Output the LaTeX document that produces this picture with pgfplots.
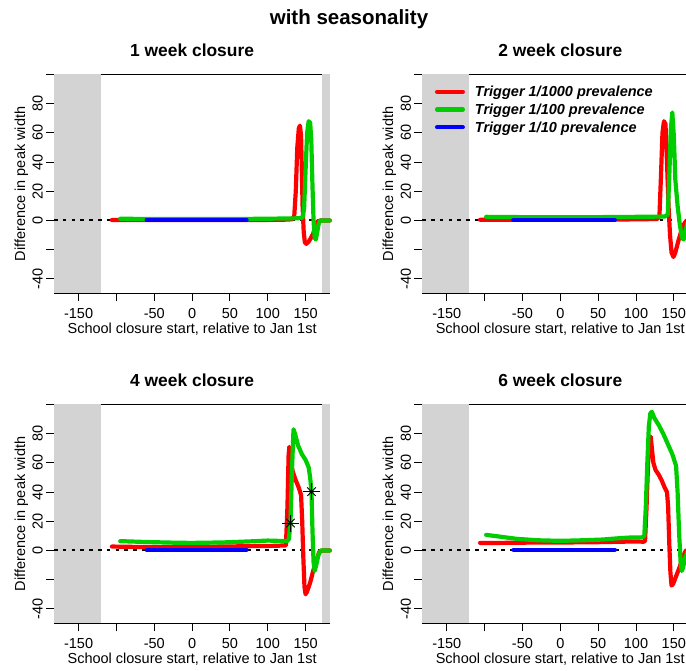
\documentclass[border=0pt]{standalone}
\usepackage{fontspec}
\setmainfont{Liberation Sans}
\usepackage{pgfplots}
\pgfplotsset{compat=1.18}
\definecolor{rred}{RGB}{255,0,0}
\definecolor{rgreen}{RGB}{0,205,0}
\definecolor{rblue}{RGB}{0,0,255}
\definecolor{rgrey}{RGB}{211,211,211}
\pgfplotsset{
 panel/.style={
  scale only axis, width=276.2pt, height=219pt, anchor=south west,
  xmin=-182.5, xmax=182.5, ymin=-50, ymax=100,
  axis x line*=bottom, axis y line*=left,
  axis line style={draw=none},
  xtick={-150,-100,...,150}, xticklabels={-150,,-50,0,50,100,150},
  ytick={-40,-20,...,100}, yticklabels={-40,,0,20,40,60,80,},
  tick align=outside, major tick length=8pt,
  tick style={black, line width=0.9pt},
  ticklabel style={font=\fontsize{14.5}{17}\selectfont, inner sep=0pt},
  xticklabel style={anchor=north, yshift=-7pt},
  yticklabel style={xshift=-3pt, rotate=90, anchor=south},
  clip=false,
  title style={at={([yshift=12.2pt]axis description cs:0.5,1)}, anchor=base, font=\bfseries\fontsize{17.4}{20}\selectfont},
  xlabel style={at={([yshift=-40.5pt]axis description cs:0.5,0)}, anchor=base, font=\fontsize{14.5}{17}\selectfont},
  ylabel style={at={([xshift=-29pt]axis description cs:0,0.5)}, anchor=base, font=\fontsize{14.5}{17}\selectfont},
  xlabel={School closure start, relative to Jan 1st},
  ylabel={Difference in peak width},
 },
 curve/.style={line width=4.2pt, line cap=round, line join=round},
}
\newcommand{\deco}{%
 \draw[black, line width=0.9pt] (axis cs:-182.5,100) -- (axis cs:182.5,100);
 \fill[rgrey] (axis cs:-182.5,-49.6) rectangle (axis cs:-120.7,100.2);
 \fill[rgrey] (axis cs:171,-49.6) rectangle (axis cs:182.5,100.2);
 \draw[black, line width=0.9pt] (axis cs:-182.5,-50) -- (axis cs:182.5,-50);
 \draw[black, line width=2pt, dash pattern=on 3.5pt off 5.3pt] (axis cs:-182.5,0) -- (axis cs:182.5,0);
}
\begin{document}
\begin{tikzpicture}
\path[use as bounding box] (0pt,0pt) rectangle (686pt,671pt);
\clip (0pt,0pt) rectangle (686pt,671pt);

% ---------- 1 week ----------
\begin{axis}[panel, at={(54pt,377.5pt)}, title={1 week closure}]
\deco
\addplot[rred, curve] coordinates {(-106,0.3) (-80,0.3) (-40,0.3) (0,0.3) (40,0.3) (80,0.3) (120,0.5) (132,0.8) (135,3) (137,20) (139,50) (141,63) (142.5,65) (144,58) (145,35) (146,10) (147.5,-8) (149,-15) (151,-16) (154,-14.5) (157,-12) (160,-9) (163,-4) (166,-0.5) (170,0) (182,0)};
\addplot[rgreen, curve] coordinates {(-95,1.2) (-50,1) (0,1) (50,1) (100,1.2) (140,1.5) (146,2) (148,8) (150,35) (152,60) (154,68) (156,67) (157.5,55) (159,25) (160.5,0) (162,-12) (163.5,-13) (165,-9) (167,-3) (169,0) (182,0)};
\addplot[rblue, curve] coordinates {(-60,0.5) (-30,0.5) (0,0.5) (30,0.5) (72,0.5)};
\end{axis}

% ---------- 2 week ----------
\begin{axis}[panel, at={(422.2pt,377.5pt)}, title={2 week closure},
  legend style={at={(axis cs:-165.9,91.9)}, anchor=north west, draw=none, fill=none, inner sep=0pt, row sep=7.4pt, column sep=10pt,
    font=\bfseries\itshape\fontsize{14.5}{17}\selectfont, nodes={inner sep=0pt, text height=10.4pt, text depth=0pt}},
  legend cell align=left,
  legend image code/.code={\draw[#1] (0pt,0pt) -- (25.8pt,0pt);}]
\deco
\addplot[rred, curve] coordinates {(-106,0.5) (-50,0.5) (0,0.5) (50,0.5) (100,0.8) (128,1) (131,3) (133,30) (135,60) (137,68) (139,66) (141,40) (143,10) (145,-10) (147,-22) (149.5,-25) (152,-22) (156,-14) (160,-7) (164,-2) (167,0) (182,0)};
\addlegendentry{Trigger 1/1000 prevalence}
\addplot[rgreen, curve] coordinates {(-98,2.5) (-50,2.3) (0,2.2) (50,2.3) (100,2.5) (138,2.7) (142,4) (144,30) (146,62) (148,74) (150,58) (152,28) (155,10) (158,-3) (161,-12) (163,-13) (165,-8) (168,-2) (172,0) (182,0)};
\addlegendentry{Trigger 1/100 prevalence}
\addplot[rblue, curve] coordinates {(-62,0.5) (-30,0.5) (0,0.5) (30,0.5) (72,0.5)};
\addlegendentry{Trigger 1/10 prevalence}
\end{axis}

% ---------- 4 week ----------
\begin{axis}[panel, at={(54pt,47.5pt)}, title={4 week closure}]
\deco
\addplot[rred, curve] coordinates {(-106,2.7) (-80,2.5) (-40,2.3) (0,2.5) (40,2.7) (80,3) (110,3.2) (124,3.5) (126,30) (127.5,65) (128.5,71) (130,62) (133,54) (137,48) (141,43) (144,38) (145.5,20) (147,-5) (148.5,-25) (150,-30) (152,-28) (156,-22) (160,-14) (164,-7) (168,-1) (172,0) (182,0)};
\addplot[rgreen, curve] coordinates {(-95,6.4) (-60,5.8) (-20,5.3) (0,5.2) (40,5.5) (80,6.3) (100,6.8) (120,6.5) (126,6.5) (128,8) (130,19) (132,55) (134,83) (136,80) (140,72) (145,66) (150,62) (154,57) (156,50) (157.8,40) (159,15) (160.5,-8) (162,-14) (164,-10) (167,-3) (170,0) (182,0)};
\addplot[rblue, curve] coordinates {(-60,0.5) (-30,0.5) (0,0.5) (30,0.5) (72,0.5)};
\addplot[only marks, black, mark=+, mark size=8.5pt, mark options={line width=0.9pt}] coordinates {(130,18.8) (157.8,40.3)};
\addplot[only marks, black, mark=x, mark size=6pt, mark options={line width=0.9pt}] coordinates {(130,18.8) (157.8,40.3)};
\end{axis}

% ---------- 6 week ----------
\begin{axis}[panel, at={(422.2pt,47.5pt)}, title={6 week closure}]
\deco
\addplot[rred, curve] coordinates {(-106,5.2) (-80,5.2) (-40,5.4) (0,5.5) (40,5.6) (80,6) (100,6.2) (110,6) (112,6.5) (114,30) (116,60) (118,75) (119.5,78) (121,70) (123,60) (126,55) (130,52) (134,48) (138,43) (141,40) (142.5,30) (144,5) (145.5,-15) (147,-24) (149,-23) (152,-19) (155,-15) (158,-11) (162,-4) (166,0) (182,0)};
\addplot[rgreen, curve] coordinates {(-98,10.7) (-80,9.5) (-58,8) (-30,7) (0,6.6) (30,7) (56,7.5) (80,8.5) (96,9) (108,9) (111,10) (113,30) (115,60) (117,85) (119,94) (121,95) (124,91) (130,86) (136,80) (142,73) (148,66) (153,58) (155,40) (157,12) (159,-8) (160.5,-14) (162,-12) (165,-5) (169,0) (182,0)};
\addplot[rblue, curve] coordinates {(-62,0.5) (-30,0.5) (0,0.5) (30,0.5) (72,0.5)};
\end{axis}

\node[anchor=base, font=\bfseries\fontsize{20.5}{24}\selectfont] at (349pt,646pt) {with seasonality};
\end{tikzpicture}
\end{document}
